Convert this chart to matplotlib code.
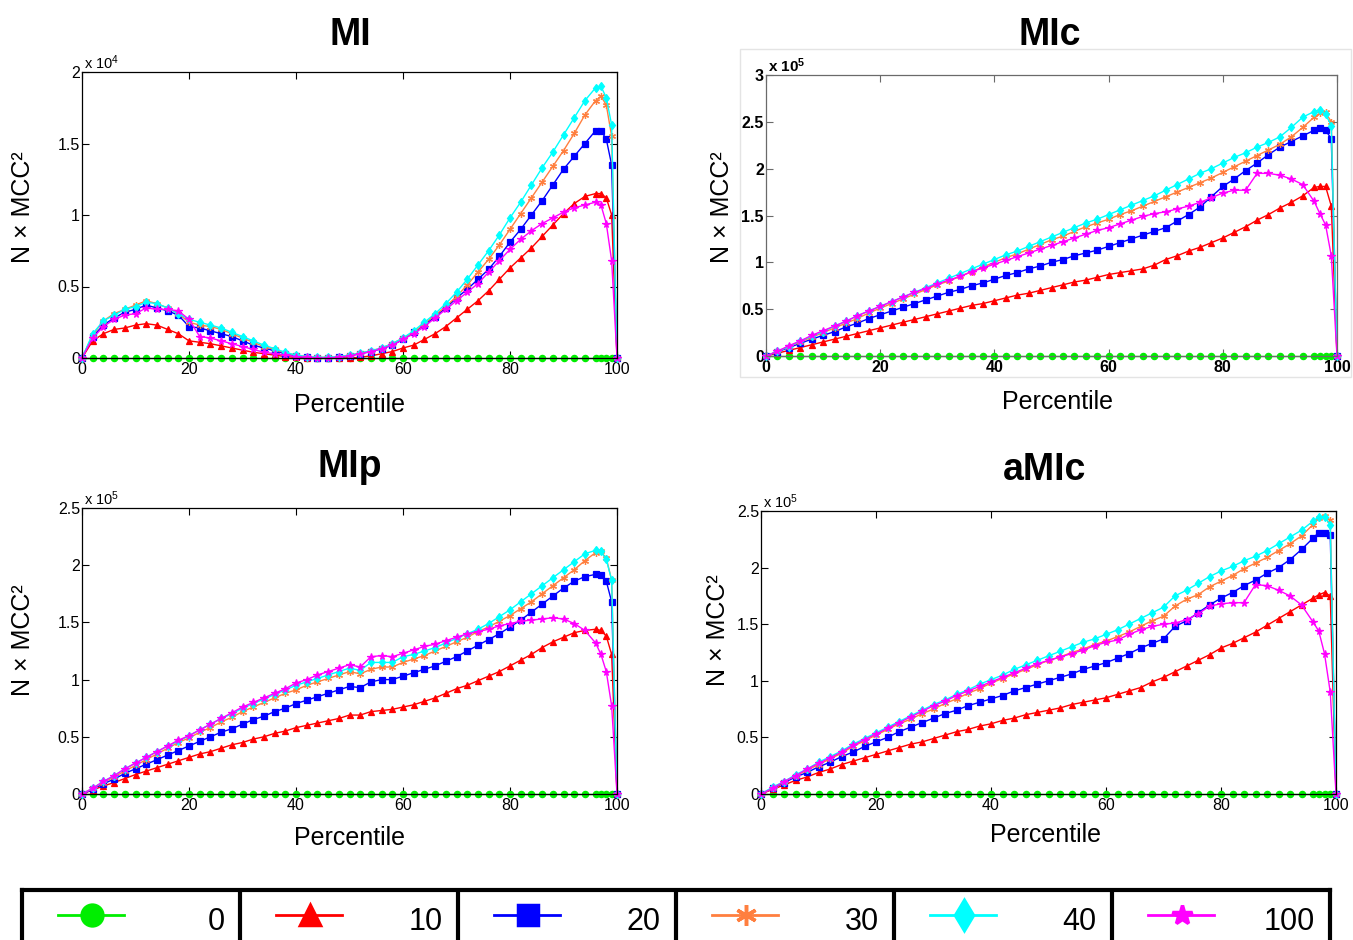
import matplotlib
matplotlib.use('Agg')
import matplotlib.pyplot as plt
from matplotlib.patches import Rectangle

plt.rcParams['font.family'] = ['Liberation Sans', 'DejaVu Sans']
plt.rcParams['mathtext.fontset'] = 'custom'
plt.rcParams['mathtext.rm'] = 'Liberation Sans'
plt.rcParams['mathtext.it'] = 'Liberation Sans:italic'
plt.rcParams['mathtext.bf'] = 'Liberation Sans:bold'

W, H = 1353, 940

# ---------------- data ----------------
percentile = [0, 2, 4, 6, 8, 10, 12, 14, 16, 18, 20, 22, 24, 26, 28, 30, 32, 34, 36, 38,
              40, 42, 44, 46, 48, 50, 52, 54, 56, 58, 60, 62, 64, 66, 68, 70, 72, 74, 76, 78,
              80, 82, 84, 86, 88, 90, 92, 94, 96, 97, 98, 99, 100]

series_labels = ['0', '10', '20', '30', '40', '100']

zero_line = [0, 0, 0, 0, 0, 0, 0, 0, 0, 0, 0, 0, 0, 0, 0, 0, 0, 0, 0, 0,
             0, 0, 0, 0, 0, 0, 0, 0, 0, 0, 0, 0, 0, 0, 0, 0, 0, 0, 0, 0,
             0, 0, 0, 0, 0, 0, 0, 0, 0, 0, 0, 0, 0]

# MI  (x 10^4)
mi_10 = [0, .12, .17, .20, .21, .23, .24, .23, .20, .17, .12, .11, .10, .085, .07, .055, .04, .03, .02, .01,
         .005, 0, 0, 0, 0, 0, .005, .015, .03, .045, .07, .09, .13, .17, .22, .28, .34, .40, .47, .55,
         .63, .70, .77, .85, .93, 1.01, 1.08, 1.13, 1.15, 1.15, 1.12, 1.00, 0]
mi_20 = [0, .15, .23, .28, .32, .34, .37, .35, .33, .30, .22, .21, .19, .17, .15, .12, .09, .07, .05, .03,
         .015, .005, 0, 0, .005, .015, .03, .045, .065, .09, .13, .18, .23, .29, .35, .42, .48, .55, .62, .71,
         .81, .90, 1.00, 1.10, 1.21, 1.32, 1.41, 1.50, 1.59, 1.59, 1.53, 1.35, 0]
mi_30 = [0, .16, .26, .31, .34, .37, .40, .38, .35, .31, .25, .23, .22, .20, .17, .14, .11, .08, .06, .035,
         .02, .01, .005, .005, .01, .02, .035, .05, .07, .10, .14, .18, .24, .30, .36, .43, .51, .60, .69, .79,
         .90, 1.01, 1.12, 1.23, 1.34, 1.45, 1.57, 1.70, 1.80, 1.83, 1.77, 1.55, 0]
mi_40 = [0, .17, .26, .30, .34, .36, .39, .38, .35, .31, .27, .25, .23, .21, .18, .15, .12, .09, .065, .04,
         .02, .01, .005, .005, .01, .02, .035, .05, .07, .10, .14, .19, .25, .31, .38, .46, .55, .65, .75, .86,
         .98, 1.09, 1.21, 1.33, 1.44, 1.56, 1.68, 1.80, 1.89, 1.90, 1.82, 1.63, 0]
mi_100 = [0, .14, .22, .27, .30, .31, .35, .34, .34, .33, .27, .15, .14, .12, .10, .08, .06, .04, .03, .02,
          .01, .005, 0, 0, .005, .015, .03, .045, .065, .09, .13, .17, .22, .28, .34, .40, .46, .52, .60, .68,
          .76, .83, .89, .94, .98, 1.02, 1.05, 1.07, 1.09, 1.07, .94, .68, 0]

# MIc (x 10^5)
mic_10 = [0, .03, .06, .09, .12, .15, .18, .21, .24, .27, .30, .33, .36, .39, .42, .45, .48, .51, .54, .56,
          .59, .62, .65, .67, .70, .73, .76, .79, .81, .84, .87, .89, .91, .93, .97, 1.03, 1.07, 1.12, 1.16, 1.21,
          1.26, 1.32, 1.38, 1.45, 1.51, 1.58, 1.64, 1.71, 1.80, 1.81, 1.81, 1.60, 0]
mic_20 = [0, .045, .09, .135, .18, .22, .26, .31, .35, .40, .44, .48, .52, .56, .60, .64, .68, .71, .75, .78,
          .82, .86, .89, .93, .96, 1.00, 1.03, 1.07, 1.10, 1.13, 1.17, 1.21, 1.25, 1.29, 1.33, 1.37, 1.44, 1.51, 1.59, 1.70,
          1.81, 1.89, 1.98, 2.06, 2.15, 2.23, 2.29, 2.35, 2.41, 2.43, 2.41, 2.32, 0]
mic_30 = [0, .05, .10, .15, .20, .25, .30, .35, .40, .46, .51, .56, .61, .66, .71, .76, .80, .85, .90, .95,
          1.00, 1.05, 1.09, 1.14, 1.19, 1.24, 1.28, 1.33, 1.38, 1.42, 1.46, 1.51, 1.55, 1.60, 1.65, 1.70, 1.75, 1.80, 1.85, 1.90,
          1.96, 2.02, 2.08, 2.14, 2.20, 2.26, 2.34, 2.44, 2.55, 2.59, 2.60, 2.50, 0]
mic_40 = [0, .05, .10, .16, .21, .26, .32, .37, .43, .48, .53, .58, .63, .68, .73, .78, .83, .88, .93, .98,
          1.03, 1.08, 1.12, 1.17, 1.22, 1.27, 1.32, 1.37, 1.42, 1.46, 1.51, 1.56, 1.61, 1.66, 1.71, 1.77, 1.83, 1.89, 1.95, 2.00,
          2.06, 2.12, 2.17, 2.23, 2.28, 2.34, 2.44, 2.55, 2.61, 2.63, 2.58, 2.46, 0]
mic_100 = [0, .05, .11, .16, .22, .27, .32, .37, .43, .48, .53, .58, .63, .68, .72, .77, .81, .85, .90, .94,
           .98, 1.02, 1.06, 1.10, 1.14, 1.18, 1.22, 1.26, 1.30, 1.34, 1.37, 1.41, 1.45, 1.49, 1.52, 1.54, 1.57, 1.60, 1.64, 1.69,
           1.74, 1.77, 1.77, 1.95, 1.95, 1.93, 1.89, 1.83, 1.65, 1.52, 1.40, 1.07, 0]

# MIp (x 10^5)
mip_10 = [0, .035, .07, .10, .135, .17, .20, .23, .26, .29, .32, .35, .37, .40, .43, .45, .48, .50, .53, .55,
          .58, .60, .62, .64, .66, .69, .69, .72, .73, .74, .76, .78, .81, .84, .88, .92, .95, .99, 1.03, 1.07,
          1.12, 1.17, 1.22, 1.28, 1.33, 1.37, 1.41, 1.43, 1.44, 1.43, 1.38, 1.22, 0]
mip_20 = [0, .04, .09, .13, .18, .22, .26, .30, .34, .38, .42, .46, .50, .54, .57, .61, .65, .68, .72, .75,
          .79, .82, .85, .88, .91, .94, .93, .98, 1.00, 1.00, 1.03, 1.06, 1.09, 1.12, 1.16, 1.20, 1.25, 1.30, 1.35, 1.40,
          1.46, 1.52, 1.59, 1.66, 1.73, 1.80, 1.86, 1.90, 1.92, 1.91, 1.86, 1.68, 0]
mip_30 = [0, .05, .10, .15, .20, .25, .30, .35, .40, .45, .49, .54, .58, .63, .67, .72, .76, .80, .84, .88,
          .91, .95, .98, 1.01, 1.04, 1.07, 1.05, 1.09, 1.11, 1.11, 1.15, 1.18, 1.21, 1.25, 1.29, 1.33, 1.37, 1.42, 1.46, 1.51,
          1.56, 1.62, 1.68, 1.75, 1.82, 1.89, 1.96, 2.04, 2.11, 2.12, 2.06, 1.87, 0]
mip_40 = [0, .05, .11, .16, .22, .27, .32, .37, .42, .46, .51, .56, .61, .66, .70, .75, .79, .83, .87, .91,
          .95, .98, 1.01, 1.04, 1.07, 1.10, 1.08, 1.15, 1.15, 1.15, 1.20, 1.22, 1.25, 1.28, 1.32, 1.36, 1.40, 1.44, 1.49, 1.55,
          1.61, 1.68, 1.75, 1.82, 1.89, 1.96, 2.03, 2.10, 2.13, 2.12, 2.05, 1.87, 0]
mip_100 = [0, .05, .11, .16, .22, .27, .32, .37, .42, .47, .51, .56, .61, .66, .71, .76, .80, .84, .88, .92,
           .97, 1.00, 1.04, 1.07, 1.10, 1.13, 1.11, 1.20, 1.21, 1.20, 1.23, 1.26, 1.29, 1.31, 1.34, 1.37, 1.40, 1.42, 1.44, 1.47,
           1.49, 1.51, 1.52, 1.53, 1.54, 1.53, 1.49, 1.43, 1.32, 1.22, 1.07, .77, 0]

# aMIc (x 10^5)
amic_10 = [0, .04, .08, .12, .15, .19, .22, .26, .29, .32, .35, .38, .41, .44, .46, .49, .52, .55, .57, .60,
           .62, .65, .67, .70, .72, .74, .76, .79, .81, .83, .85, .88, .91, .94, .99, 1.03, 1.08, 1.13, 1.18, 1.23,
           1.29, 1.33, 1.38, 1.43, 1.49, 1.55, 1.61, 1.67, 1.73, 1.76, 1.78, 1.75, 0]
amic_20 = [0, .05, .10, .15, .19, .24, .28, .33, .37, .42, .46, .50, .55, .59, .63, .67, .71, .74, .78, .81,
           .84, .87, .91, .94, .97, 1.00, 1.03, 1.06, 1.10, 1.13, 1.16, 1.20, 1.24, 1.29, 1.33, 1.37, 1.48, 1.53, 1.60, 1.67,
           1.73, 1.78, 1.84, 1.89, 1.95, 2.00, 2.07, 2.16, 2.26, 2.31, 2.31, 2.29, 0]
amic_30 = [0, .05, .11, .16, .21, .26, .31, .36, .42, .47, .52, .57, .62, .66, .71, .75, .80, .84, .89, .93,
           .98, 1.02, 1.06, 1.10, 1.14, 1.18, 1.21, 1.25, 1.28, 1.32, 1.35, 1.39, 1.43, 1.48, 1.53, 1.57, 1.66, 1.72, 1.76, 1.83,
           1.88, 1.93, 1.99, 2.04, 2.09, 2.15, 2.21, 2.28, 2.38, 2.44, 2.46, 2.42, 0]
amic_40 = [0, .06, .11, .17, .22, .28, .33, .38, .44, .49, .54, .59, .64, .69, .74, .79, .83, .88, .92, .97,
           1.01, 1.05, 1.10, 1.14, 1.18, 1.22, 1.26, 1.30, 1.34, 1.37, 1.41, 1.45, 1.50, 1.55, 1.60, 1.65, 1.75, 1.80, 1.86, 1.92,
           1.97, 2.01, 2.06, 2.10, 2.15, 2.21, 2.27, 2.33, 2.41, 2.45, 2.45, 2.38, 0]
amic_100 = [0, .05, .11, .16, .22, .27, .32, .37, .43, .48, .53, .58, .63, .68, .73, .78, .82, .87, .91, .95,
            .99, 1.03, 1.07, 1.11, 1.15, 1.18, 1.21, 1.24, 1.27, 1.31, 1.34, 1.36, 1.41, 1.45, 1.48, 1.50, 1.51, 1.54, 1.59, 1.66,
            1.68, 1.69, 1.69, 1.85, 1.84, 1.80, 1.75, 1.67, 1.52, 1.44, 1.24, .90, 0]

# ---------------- styles ----------------
colors = ['#00ee00', '#ff0000', '#0000ff', '#ff7f3f', '#00ffff', '#ff00ff']
markers = ['o', '^', 's', (6, 2, 0), 'd', '*']
msizes = [4.5, 4.5, 4, 5, 4.5, 5.5]


def fx(x):
    return x / W


def fy(y):
    return 1 - y / H


fig = plt.figure(figsize=(W / 100, H / 100), dpi=100)

panels = [
    dict(title='MI', series=[zero_line, mi_10, mi_20, mi_30, mi_40, mi_100], exp='4', ymax=2.0,
         yt=[0, 0.5, 1, 1.5, 2], ytl=['0', '0.5', '1', '1.5', '2'],
         box=(82, 617, 72, 358), title_xy=(350, 45), xl_xy=(350, 412), yl_xy=(23, 207), bold=False),
    dict(title='MIc', series=[zero_line, mic_10, mic_20, mic_30, mic_40, mic_100], exp='5', ymax=3.0,
         yt=[0, 0.5, 1, 1.5, 2, 2.5, 3], ytl=['0', '0.5', '1', '1.5', '2', '2.5', '3'],
         box=(766, 1337, 75, 356), title_xy=(1050, 45), xl_xy=(1057, 409), yl_xy=(722, 207), bold=True),
    dict(title='MIp', series=[zero_line, mip_10, mip_20, mip_30, mip_40, mip_100], exp='5', ymax=2.5,
         yt=[0, 0.5, 1, 1.5, 2, 2.5], ytl=['0', '0.5', '1', '1.5', '2', '2.5'],
         box=(82, 617, 508, 794), title_xy=(350, 477), xl_xy=(350, 845), yl_xy=(23, 640), bold=False),
    dict(title='aMIc', series=[zero_line, amic_10, amic_20, amic_30, amic_40, amic_100], exp='5', ymax=2.5,
         yt=[0, 0.5, 1, 1.5, 2, 2.5], ytl=['0', '0.5', '1', '1.5', '2', '2.5'],
         box=(761, 1336, 511, 794), title_xy=(1045, 480), xl_xy=(1045, 842), yl_xy=(718, 630), bold=False),
]

# light frame around the MIc panel
fig.patches.append(Rectangle((fx(740), fy(377)), fx(1351 - 740), (377 - 49) / H,
                             transform=fig.transFigure, fill=False, ec='#e4e4e4', lw=1))

for p in panels:
    l, r, t, b = p['box']
    ax = fig.add_axes([fx(l), fy(b), fx(r - l), (b - t) / H])
    for vals, c, m, ms in zip(p['series'], colors, markers, msizes):
        ax.plot(percentile, vals, color=c, marker=m, ms=ms, mfc=c, mec=c, mew=0.9,
                lw=1.0, clip_on=False)
    ax.set_xlim(0, 100)
    ax.set_ylim(0, p['ymax'])
    ax.set_xticks([0, 20, 40, 60, 80, 100])
    ax.set_yticks(p['yt'])
    weight = 'bold' if p['bold'] else 'normal'
    spine_c = '#6a6a6a' if p['bold'] else 'black'
    ax.set_xticklabels(['0', '20', '40', '60', '80', '100'], fontweight=weight)
    ax.set_yticklabels(p['ytl'], fontweight=weight)
    ax.tick_params(direction='in', top=True, right=True, length=5, width=0.8,
                   labelsize=11.5, color=spine_c)
    ax.tick_params(axis='x', pad=3)
    ax.tick_params(axis='y', pad=1.5)
    for s in ax.spines.values():
        s.set_linewidth(0.9)
        s.set_color(spine_c)
    if p['bold']:
        ax.text(0.003, 1.0, r'x 10$^{\mathbf{%s}}$' % p['exp'], transform=ax.transAxes,
                ha='left', va='bottom', fontsize=11, fontweight='bold')
    else:
        ax.text(0.003, 1.0, r'x 10$^{%s}$' % p['exp'], transform=ax.transAxes,
                ha='left', va='bottom', fontsize=10.5)
    tx, ty = p['title_xy']
    fig.text(fx(tx), fy(ty), p['title'], ha='center', va='baseline',
             fontsize=27, fontweight='bold')
    lx, ly = p['xl_xy']
    fig.text(fx(lx), fy(ly), 'Percentile', ha='center', va='baseline', fontsize=18)
    yx, yy = p['yl_xy']
    fig.text(fx(yx), fy(yy), 'N × MCC²', ha='center', va='center', rotation=90, fontsize=18)

# ---------------- legend strip ----------------
leg_top, leg_bot = 890, 970
lax = fig.add_axes([fx(22), fy(leg_bot), fx(1330 - 22), (leg_bot - leg_top) / H])
lax.set_xlim(0, 6)
lax.set_ylim(0, 1)
lax.set_xticks([])
lax.set_yticks([])
for s in lax.spines.values():
    s.set_linewidth(3)
    s.set_color('black')
for i in range(1, 6):
    lax.axvline(i, color='black', lw=3)
yc = 1 - (915 - leg_top) / (leg_bot - leg_top)
ytxt = 1 - (930 - leg_top) / (leg_bot - leg_top)
for i, (lab, c, m) in enumerate(zip(series_labels, colors, markers)):
    lax.plot([i + 0.165, i + 0.47], [yc, yc], color=c, lw=2)
    lax.plot([i + 0.32], [yc], color=c, marker=m, ms=15, mfc=c, mec=c, mew=2.5)
    lax.text(i + 0.93, ytxt, lab, ha='right', va='baseline', fontsize=22)

fig.savefig('out.png', dpi=100)
